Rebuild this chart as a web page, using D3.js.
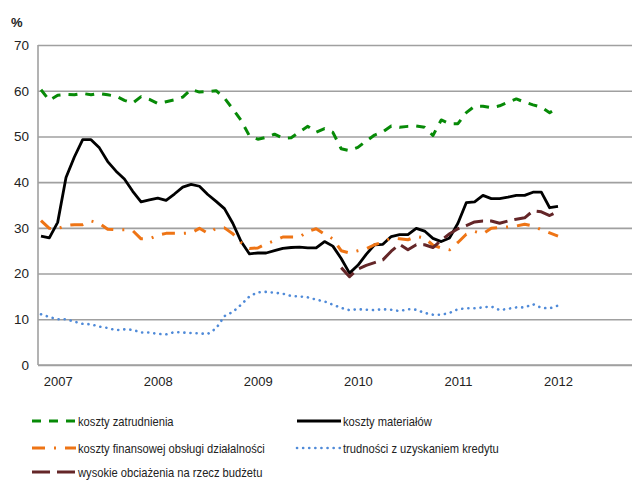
<!DOCTYPE html>
<html>
<head>
<meta charset="utf-8">
<script src="https://cdn.jsdelivr.net/npm/d3@7"></script>
<style>
  html, body { margin: 0; padding: 0; background: #fff; }
  svg { display: block; font-family: "Liberation Sans", Arial, sans-serif; }
</style>
</head>
<body>
<svg id="chart" width="635" height="480"></svg>
<script>
// Monthly observations, Nov 2006 – Jan 2012
const months = [];
for (let yr = 2006, m = 11; months.length < 63; m++) {
  if (m > 12) { m = 1; yr++; }
  months.push(yr + "-" + String(m).padStart(2, "0"));
}
const yearTicks = ["2007-01", "2008-01", "2009-01", "2010-01", "2011-01", "2012-01"];
const yTicks = [0, 10, 20, 30, 40, 50, 60, 70];

const kosztyZatrudnienia = [60.2, 57.9, 59.0, 59.2, 59.1, 59.4, 59.1, 59.4, 59.1, 58.8, 57.9, 57.3, 58.7,
  58.1, 57.2, 57.6, 58.0, 58.6, 60.3, 59.7, 59.8, 60.0, 58.4, 56.0, 53.5, 50.1, 49.4, 49.8, 50.5, 49.6,
  49.7, 51.0, 52.2, 50.9, 51.7, 50.9, 47.3, 46.9, 47.6, 49.0, 50.3, 51.0, 52.3, 52.0, 52.2, 52.3, 52.0,
  50.2, 53.6, 52.8, 52.8, 55.2, 56.6, 56.6, 56.3, 56.7, 57.5, 58.2, 57.5, 56.9, 56.4, 55.2, 56.3];

const kosztyMaterialow = [28.2, 27.8, 31.2, 41.0, 45.5, 49.3, 49.3, 47.5, 44.5, 42.4, 40.7, 38.0, 35.7,
  36.1, 36.5, 36.0, 37.4, 38.9, 39.5, 39.1, 37.3, 35.8, 34.2, 31.0, 27.0, 24.3, 24.5, 24.5, 25.0, 25.5,
  25.7, 25.8, 25.6, 25.6, 27.0, 26.0, 23.3, 20.1, 21.8, 24.2, 26.3, 26.4, 28.1, 28.5, 28.5, 29.9, 29.3,
  27.7, 27.0, 27.8, 31.0, 35.5, 35.7, 37.1, 36.4, 36.4, 36.7, 37.1, 37.1, 37.8, 37.8, 34.4, 34.7];

const kosztyFinansowe = [31.6, 29.9, 29.8, 30.5, 30.7, 30.7, 31.5, 31.0, 29.7, 29.6, 29.6, 29.4, 27.6,
  27.6, 28.4, 28.8, 28.8, 28.8, 28.9, 29.9, 28.8, 29.9, 30.0, 28.7, 26.8, 25.5, 25.6, 26.5, 27.2, 28.0,
  28.0, 28.0, 29.2, 29.8, 28.6, 27.6, 25.0, 24.5, 25.0, 25.4, 26.3, 26.9, 27.8, 27.6, 27.4, 28.1, 27.8,
  26.2, 25.6, 25.2, 26.8, 28.6, 29.2, 28.7, 29.9, 30.1, 30.2, 30.4, 30.8, 30.4, 29.6, 28.9, 28.2];

const trudnosciKredyt = [11.1, 10.5, 10.0, 10.0, 9.5, 9.0, 8.9, 8.4, 8.1, 7.6, 7.8, 7.7, 7.1,
  7.1, 6.8, 6.7, 7.2, 7.1, 7.0, 6.9, 6.8, 8.0, 10.7, 11.6, 13.2, 15.0, 15.9, 16.0, 15.8, 15.6,
  15.1, 15.0, 14.8, 14.3, 13.9, 13.2, 12.5, 12.0, 12.2, 12.1, 12.0, 12.2, 12.1, 11.8, 12.2, 12.1, 11.4,
  11.0, 11.0, 11.4, 12.2, 12.4, 12.4, 12.6, 12.8, 12.0, 12.3, 12.6, 12.6, 13.3, 12.5, 12.4, 13.0];

// series begins in Nov 2009
const obciazeniaBudzet = [null, null, null, null, null, null, null, null, null, null, null, null, null,
  null, null, null, null, null, null, null, null, null, null, null, null, null, null, null, null, null,
  null, null, null, null, null, null, 21.3, 19.3, 21.0, 21.8, 22.4, 23.0, 24.9, 26.4, 25.2, 26.3, 26.3,
  25.7, 27.3, 28.7, 29.8, 30.5, 31.3, 31.5, 31.5, 31.0, 31.5, 31.9, 32.2, 33.7, 33.5, 32.7, 33.6];

const seriesNames = [
  "koszty zatrudnienia",
  "koszty materiałów",
  "koszty finansowej obsługi działalności",
  "trudności z uzyskaniem kredytu",
  "wysokie obciażenia na rzecz budżetu"
];

const styles = [
  { color: "#078a07", width: 3, dash: "9,8", cap: "butt" },
  { color: "#000000", width: 2.8, dash: null, cap: "butt" },
  { color: "#ee7415", width: 3, dash: "13,9,2,9", cap: "butt" },
  { color: "#4f8ad8", width: 2.6, dash: "0.1,6", cap: "round" },
  { color: "#642628", width: 3, dash: "18,7", cap: "butt" }
];
const seriesValues = [kosztyZatrudnienia, kosztyMaterialow, kosztyFinansowe, trudnosciKredyt, obciazeniaBudzet];

const svg = d3.select("#chart");
const plotLeft = 38, plotRight = 632, plotTop = 45, plotBottom = 365;

const x = d3.scalePoint().domain(months).range([41, 558]);
const y = d3.scaleLinear().domain([0, 70]).range([plotBottom, plotTop]);

// horizontal gridlines + left axis labels
const yAxis = svg.append("g")
  .attr("transform", `translate(${plotLeft},0)`)
  .call(d3.axisLeft(y).tickValues(yTicks).tickSize(-(plotRight - plotLeft)).tickPadding(9));
yAxis.select(".domain").remove();
yAxis.selectAll(".tick line").attr("stroke", "#a0a0a0").attr("stroke-width", 1.6);
yAxis.selectAll(".tick text").attr("fill", "#222").style("font-size", "13.5px")
  .style("font-family", "Liberation Sans, Arial, sans-serif");

// left vertical axis line
svg.append("line")
  .attr("x1", plotLeft).attr("x2", plotLeft).attr("y1", plotTop).attr("y2", plotBottom)
  .attr("stroke", "#a0a0a0").attr("stroke-width", 1.6);

// bottom axis with year labels
const xAxis = svg.append("g")
  .attr("transform", `translate(0,${plotBottom})`)
  .call(d3.axisBottom(x).tickValues(yearTicks).tickSize(0).tickPadding(12)
    .tickFormat(d => d.slice(0, 4)));
xAxis.select(".domain").remove();
xAxis.selectAll(".tick text").attr("fill", "#222").style("font-size", "13px")
  .style("font-family", "Liberation Sans, Arial, sans-serif");
svg.append("line")
  .attr("x1", plotLeft).attr("x2", plotRight).attr("y1", plotBottom).attr("y2", plotBottom)
  .attr("stroke", "#a0a0a0").attr("stroke-width", 1.6);

// unit label
svg.append("text").attr("x", 11).attr("y", 27).text("%")
  .attr("fill", "#222").style("font-size", "13px").style("font-weight", "bold");

const line = d3.line()
  .defined(d => d != null)
  .x((d, i) => x(months[i]))
  .y(d => y(d));

seriesValues.forEach((vals, k) => {
  const s = styles[k];
  svg.append("path")
    .datum(vals)
    .attr("fill", "none")
    .attr("stroke", s.color)
    .attr("stroke-width", s.width)
    .attr("stroke-dasharray", s.dash)
    .attr("stroke-linecap", s.cap)
    .attr("stroke-linejoin", "round")
    .attr("d", line);
});

// legend (labels set in a condensed width)
const legendPos = [
  { x: 32, y: 421 }, { x: 297, y: 421 },
  { x: 32, y: 448 }, { x: 297, y: 448 },
  { x: 32, y: 472 }
];
const legend = svg.append("g");
seriesNames.forEach((name, k) => {
  const p = legendPos[k], s = styles[k];
  const g = legend.append("g").attr("transform", `translate(${p.x},${p.y})`);
  g.append("line")
    .attr("x1", 0).attr("x2", 44).attr("y1", 0).attr("y2", 0)
    .attr("stroke", s.color).attr("stroke-width", s.width)
    .attr("stroke-dasharray", s.dash).attr("stroke-linecap", s.cap);
  g.append("text")
    .attr("transform", "translate(46,4.5) scale(0.86,1)")
    .text(name)
    .attr("fill", "#222").style("font-size", "13px");
});
</script>
</body>
</html>
